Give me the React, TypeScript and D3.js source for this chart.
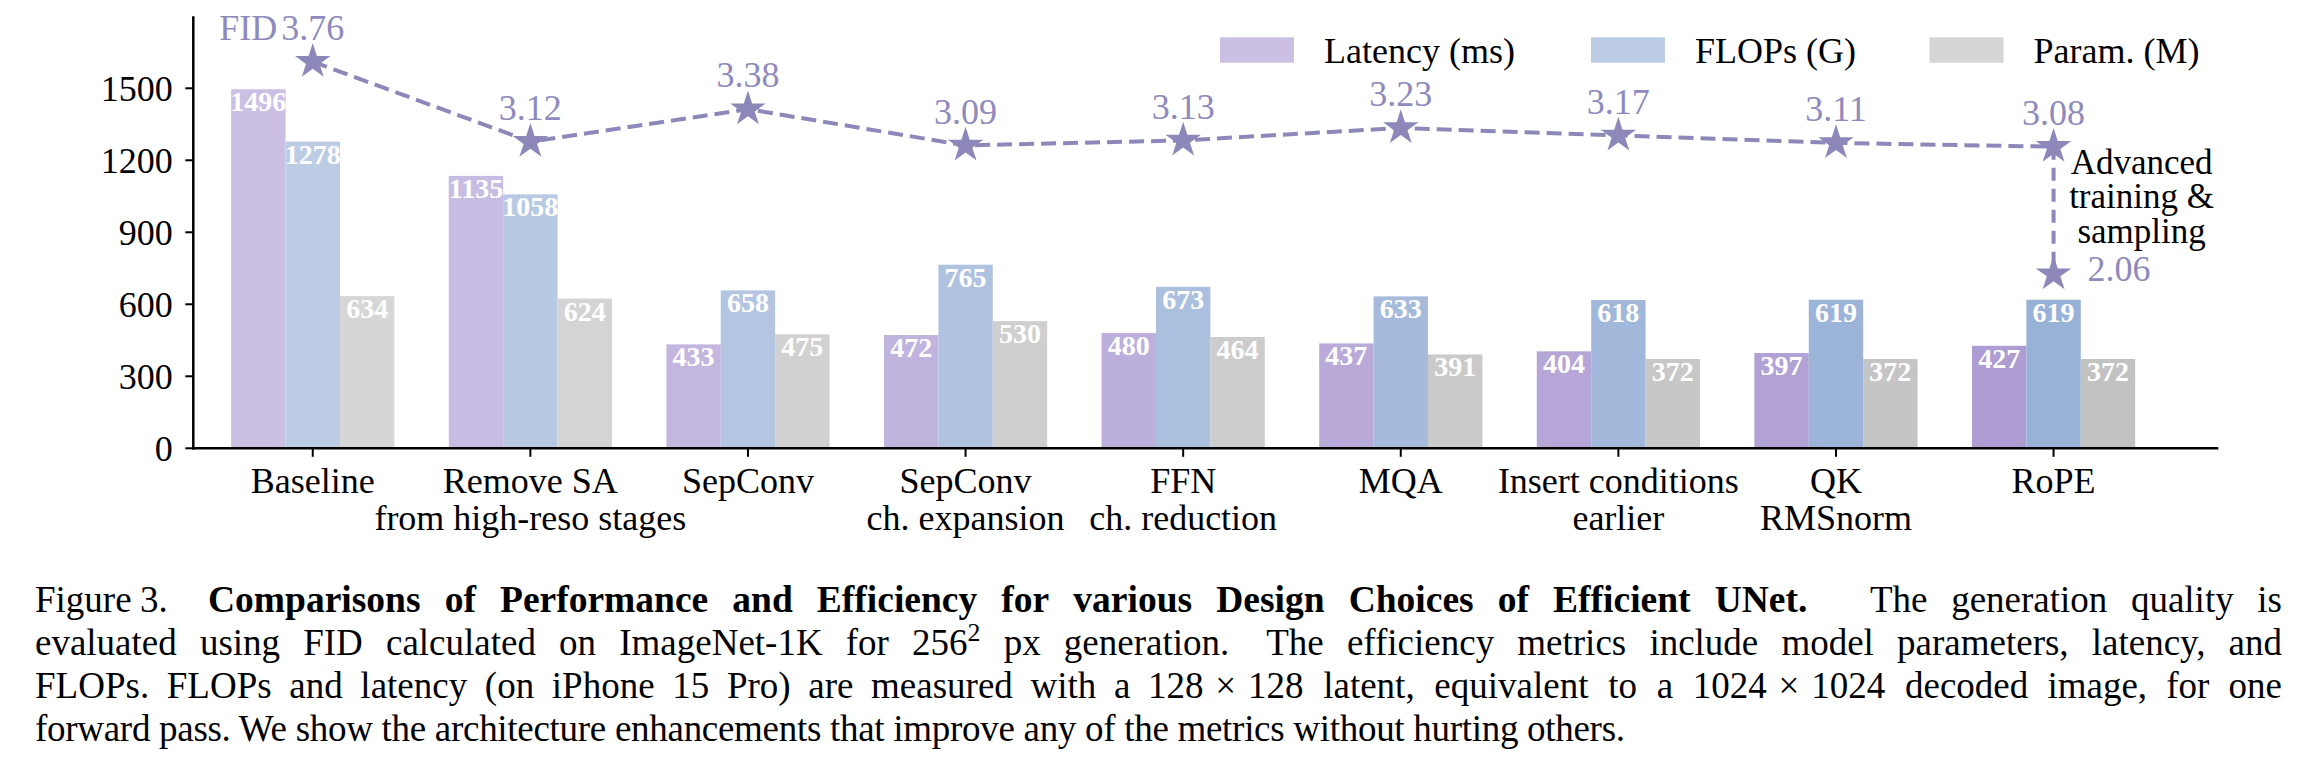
import React from 'react';
import * as d3 from 'd3';

// ---------- data ----------
const categories: string[][] = [
  ['Baseline'],
  ['Remove SA', 'from high-reso stages'],
  ['SepConv'],
  ['SepConv', 'ch. expansion'],
  ['FFN', 'ch. reduction'],
  ['MQA'],
  ['Insert conditions', 'earlier'],
  ['QK', 'RMSnorm'],
  ['RoPE'],
];
const latency = [1496, 1135, 433, 472, 480, 437, 404, 397, 427];
const flops = [1278, 1058, 658, 765, 673, 633, 618, 619, 619];
const params = [634, 624, 475, 530, 464, 391, 372, 372, 372];
const fid = [3.76, 3.12, 3.38, 3.09, 3.13, 3.23, 3.17, 3.11, 3.08];
const fidFinal = 2.06;
const yTicks = [0, 300, 600, 900, 1200, 1500];
const seriesNames = ['Latency (ms)', 'FLOPs (G)', 'Param. (M)'];
const annotationLines = ['Advanced', 'training &', 'sampling'];

// caption words: [text, bold, gapWeightAfter, anchorX]
type W = [string, boolean, number?, number?];
const captionLine1: W[] = [
  ['Figure', false, 0.35], ['3.', false, 1.65], ['Comparisons', true, 1, 208], ['of', true], ['Performance', true], ['and', true],
  ['Efficiency', true], ['for', true], ['various', true], ['Design', true], ['Choices', true], ['of', true],
  ['Efficient', true], ['UNet.', true, 2.6], ['The', false, 1, 1870], ['generation', false], ['quality', false], ['is', false],
];
const captionLine2: W[] = [
  ['evaluated', false], ['using', false], ['FID', false], ['calculated', false], ['on', false], ['ImageNet-1K', false],
  ['for', false], ['256^2', false], ['px', false], ['generation.', false, 1.6], ['The', false], ['efficiency', false],
  ['metrics', false], ['include', false], ['model', false], ['parameters,', false], ['latency,', false], ['and', false],
];
const captionLine3: W[] = [
  ['FLOPs.', false], ['FLOPs', false], ['and', false], ['latency', false], ['(on', false], ['iPhone', false], ['15', false],
  ['Pro)', false], ['are', false], ['measured', false], ['with', false], ['a', false], ['128', false, 0.6, 1148], ['×', false, 0.6],
  ['128', false], ['latent,', false], ['equivalent', false], ['to', false], ['a', false], ['1024', false, 0.6], ['×', false, 0.6],
  ['1024', false], ['decoded', false, 1, 1905], ['image,', false], ['for', false], ['one', false],
];
const captionLine4 = 'forward pass. We show the architecture enhancements that improve any of the metrics without hurting others.';

// ---------- style ----------
const W_ = 2316;
const H_ = 774;
const serif = '"Liberation Serif", "Times New Roman", Times, serif';
const fidColor = '#8E8ABD';
const starColor = '#8C88BA';
const colorRanges = [
  ['#CBC0E3', '#AE9DD3'],
  ['#BDCCE5', '#98B1D7'],
  ['#D6D6D6', '#C2C2C2'],
];
const capSize = 37;
const capBoldSize = 37.5;

let ctx: CanvasRenderingContext2D | null = null;
function measure(t: string, size: number, bold: boolean) {
  if (!ctx) ctx = document.createElement('canvas').getContext('2d');
  if (!ctx) return t.length * size * 0.45;
  ctx.font = `${bold ? 'bold ' : ''}${size}px "Liberation Serif"`;
  return ctx.measureText(t).width;
}

function wordWidth(w: string, size: number, bold: boolean) {
  if (w.includes('^')) {
    const [a, b] = w.split('^');
    return measure(a, size, bold) + measure(b, size * 0.7, bold);
  }
  return measure(w, size, bold);
}

function Word({ w, x, y, size, bold }: { w: string; x: number; y: number; size: number; bold: boolean }) {
  if (w.includes('^')) {
    const [a, b] = w.split('^');
    return (
      <text x={x} y={y} fontSize={size} fontWeight={bold ? 'bold' : 'normal'} fontFamily={serif}>
        {a}
        <tspan fontSize={size * 0.7} dy={-size * 0.38}>{b}</tspan>
      </text>
    );
  }
  return (
    <text x={x} y={y} fontSize={size} fontWeight={bold ? 'bold' : 'normal'} fontFamily={serif}>
      {w}
    </text>
  );
}

// Justify words between anchors: each segment starts at its anchor (or left) and
// spreads its gaps (including the one before the next anchor) to reach the next anchor.
function JustifiedLine({ words, y, left, right }: { words: W[]; y: number; left: number; right: number }) {
  const sizeOf = (b: boolean) => (b ? capBoldSize : capSize);
  const widths = words.map(([w, b]) => wordWidth(w, sizeOf(b), b));
  const starts: number[] = [0];
  words.forEach((wd, i) => {
    if (i > 0 && wd[3] !== undefined) starts.push(i);
  });
  const xs: number[] = new Array(words.length).fill(0);
  starts.forEach((s, k) => {
    const e = k + 1 < starts.length ? starts[k + 1] : words.length; // exclusive
    const segLeft = s === 0 ? left : (words[s][3] as number);
    const hasNext = e < words.length;
    const segRight = hasNext ? (words[e][3] as number) : right;
    const idx = d3.range(s, e);
    const total = d3.sum(idx, (i) => widths[i]);
    const gapIdx = hasNext ? idx : idx.slice(0, -1);
    const wsum = d3.sum(gapIdx, (i) => words[i][2] ?? 1) || 1;
    const unit = Math.max(4, (segRight - segLeft - total) / wsum);
    let x = segLeft;
    idx.forEach((i) => {
      xs[i] = x;
      x += widths[i] + (words[i][2] ?? 1) * unit;
    });
  });
  return (
    <g>
      {words.map(([w, b], i) => (
        <Word key={i} w={w} x={xs[i]} y={y} size={sizeOf(b)} bold={b} />
      ))}
    </g>
  );
}

export default function App() {
  const x = d3.scaleLinear().domain([-0.549, 8.757]).range([193.3, 2218.3]);
  const y = d3.scaleLinear().domain([0, 1800]).range([448.3, 16.3]);
  const yF = d3.scaleLinear().domain([0.667, 4.123]).range([448.3, 16.3]);
  const barW = 0.25;
  const series = [latency, flops, params];
  const colorFor = (s: number, i: number) =>
    d3.interpolateRgb(colorRanges[s][0], colorRanges[s][1])(i / (categories.length - 1));

  const star = d3.symbol().type(d3.symbolStar).size(390)();
  const line = d3
    .line<number>()
    .x((_, i) => x(i))
    .y((d) => yF(d));
  const last = fid.length - 1;

  const legendX = [1220, 1591, 1929.5];

  return (
    <svg
      width={W_}
      height={H_}
      style={{ position: 'absolute', left: 0, top: 0, display: 'block', background: '#fff' }}
      fontFamily={serif}
    >
      <rect width={W_} height={H_} fill="#fff" />
      {/* bars */}
      {series.map((vals, s) =>
        vals.map((v, i) => {
          const cx = i + (s - 1) * barW;
          const x0 = x(cx - barW / 2);
          const x1 = x(cx + barW / 2);
          return (
            <g key={`b${s}-${i}`}>
              <rect x={x0} y={y(v)} width={x1 - x0} height={y(0) - y(v)} fill={colorFor(s, i)} />
              <text
                x={(x0 + x1) / 2}
                y={y(v) + 22}
                textAnchor="middle"
                fill="#fff"
                fontWeight="bold"
                fontSize={28}
              >
                {v}
              </text>
            </g>
          );
        })
      )}

      {/* FID line */}
      <path d={line(fid) || ''} fill="none" stroke={starColor} strokeWidth={4} strokeDasharray="15,7" />
      <line
        x1={x(last)}
        x2={x(last)}
        y1={yF(fid[last])}
        y2={yF(fidFinal)}
        stroke={starColor}
        strokeWidth={4}
        strokeDasharray="13,8"
      />
      {fid.map((f, i) => (
        <g key={`s${i}`}>
          <path d={star || ''} transform={`translate(${x(i)},${yF(f)})`} fill={starColor} />
          <text x={x(i)} y={yF(f) - 21.7} textAnchor="middle" fill={fidColor} fontSize={36}>
            {f.toFixed(2)}
          </text>
        </g>
      ))}
      <text x={x(0) - 35.5} y={yF(fid[0]) - 21.7} textAnchor="end" fill={fidColor} fontSize={36}>
        FID
      </text>
      <path d={star || ''} transform={`translate(${x(last)},${yF(fidFinal)})`} fill={starColor} />
      <text x={x(last) + 34} y={yF(fidFinal) + 7} fill={fidColor} fontSize={36}>
        {fidFinal.toFixed(2)}
      </text>
      {annotationLines.map((t, i) => (
        <text key={t} x={x(last) + 88} y={yF(fid[last]) + 27 + i * 34.6} textAnchor="middle" fontSize={35} fill="#000">
          {t}
        </text>
      ))}

      {/* axes */}
      <line x1={x.range()[0]} x2={x.range()[0]} y1={y.range()[1]} y2={y.range()[0] + 1.2} stroke="#000" strokeWidth={2.5} />
      <line x1={x.range()[0] - 1.2} x2={x.range()[1]} y1={y(0)} y2={y(0)} stroke="#000" strokeWidth={2.5} />
      {yTicks.map((t) => (
        <g key={`yt${t}`}>
          <line x1={x.range()[0] - 8} x2={x.range()[0]} y1={y(t)} y2={y(t)} stroke="#000" strokeWidth={2} />
          <text x={x.range()[0] - 20.6} y={y(t) + 13} textAnchor="end" fontSize={36} fill="#000">
            {t}
          </text>
        </g>
      ))}
      {categories.map((lines, i) => (
        <g key={`xt${i}`}>
          <line x1={x(i)} x2={x(i)} y1={y(0)} y2={y(0) + 8.5} stroke="#000" strokeWidth={2} />
          {lines.map((l, j) => (
            <text key={j} x={x(i)} y={492.7 + j * 37.5} textAnchor="middle" fontSize={36} fill="#000">
              {l}
            </text>
          ))}
        </g>
      ))}

      {/* legend */}
      {seriesNames.map((n, s) => (
        <g key={n}>
          <rect x={legendX[s]} y={37.3} width={74} height={25.4} fill={colorRanges[s][0]} />
          <text x={legendX[s] + 104} y={62.7} fontSize={36} fill="#000">
            {n}
          </text>
        </g>
      ))}

      {/* caption */}
      <JustifiedLine words={captionLine1} y={612} left={35} right={2282} />
      <JustifiedLine words={captionLine2} y={655} left={35} right={2282} />
      <JustifiedLine words={captionLine3} y={698} left={35} right={2282} />
      <text x={35} y={741} fontSize={capSize} fill="#000" textLength={1590} lengthAdjust="spacing">
        {captionLine4}
      </text>
    </svg>
  );
}
